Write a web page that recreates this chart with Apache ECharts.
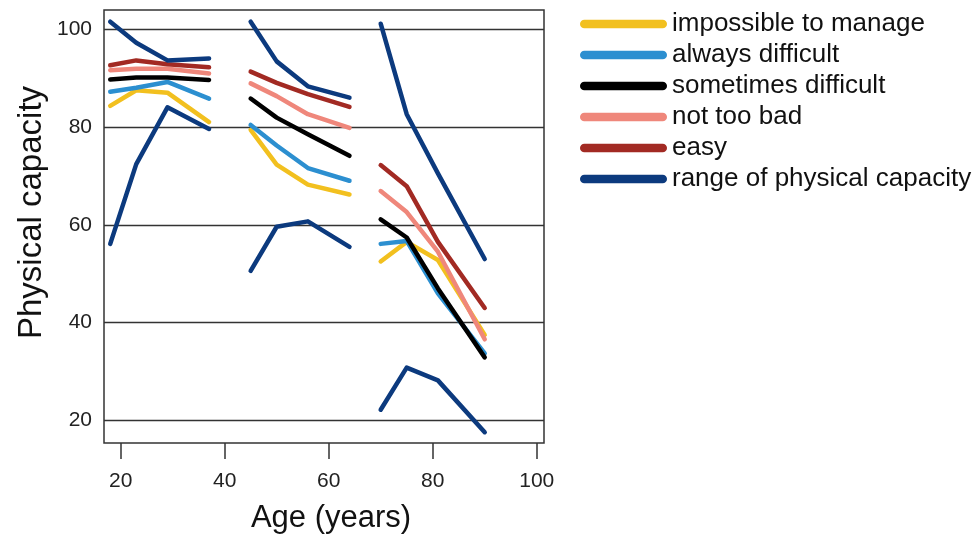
<!DOCTYPE html>
<html>
<head>
<meta charset="utf-8">
<script src="https://cdn.jsdelivr.net/npm/echarts@6/dist/echarts.min.js"></script>
<style>
  html, body { margin: 0; padding: 0; background: #fff; }
  #main { width: 978px; height: 539px; }
</style>
</head>
<body>
<div id="main"></div>
<script>
// age points of the three groups
const ages = [[18, 23, 29, 37], [45, 50, 56, 64], [70, 75, 81, 90]];

// mean physical capacity per group, by how work is managed
const impossible = [[84.3, 87.5, 87.0, 81.0], [79.4, 72.3, 68.2, 66.2], [52.5, 56.5, 52.8, 37.5]];
const alwaysDiff = [[87.2, 88.0, 89.2, 85.8], [80.4, 76.2, 71.6, 69.0], [56.1, 56.7, 46.0, 33.7]];
const sometimesDiff = [[89.7, 90.1, 90.1, 89.6], [85.8, 81.9, 78.5, 74.1], [61.1, 57.4, 47.0, 32.9]];
const notTooBad = [[91.6, 91.9, 91.9, 90.9], [88.9, 86.3, 82.6, 79.8], [66.9, 62.6, 54.5, 36.6]];
const easy = [[92.6, 93.6, 92.8, 92.2], [91.3, 89.0, 86.7, 84.1], [72.2, 67.9, 56.5, 43.0]];
const rangeUpper = [[101.5, 97.2, 93.6, 94.0], [101.5, 93.4, 88.3, 86.0], [101.1, 82.6, 70.5, 53.0]];
const rangeLower = [[56.1, 72.4, 84.0, 79.6], [50.6, 59.6, 60.7, 55.5], [22.2, 30.8, 28.2, 17.6]];

const seriesNames = ['impossible to manage', 'always difficult', 'sometimes difficult', 'not too bad', 'easy', 'range of physical capacity'];
const seriesColors = ['#f2c01f', '#2c8fd0', '#000000', '#ef877b', '#a22a23', '#0c3a7e'];
const xTicks = [20, 40, 60, 80, 100];
const yTicks = [20, 40, 60, 80, 100];

const font = 'Liberation Sans, Arial, sans-serif';

// join the groups into one line with gaps between them
function toLine(groups) {
  const out = [];
  groups.forEach(function (vals, g) {
    if (g > 0) out.push([null, null]);
    vals.forEach(function (v, i) { out.push([ages[g][i], v]); });
  });
  return out;
}
function rangeLine() {
  const out = [];
  ages.forEach(function (xs, g) {
    if (g > 0) out.push([null, null]);
    xs.forEach(function (x, i) { out.push([x, rangeUpper[g][i]]); });
    out.push([null, null]);
    xs.forEach(function (x, i) { out.push([x, rangeLower[g][i]]); });
  });
  return out;
}

const lines = [impossible, alwaysDiff, sometimesDiff, notTooBad, easy];
const series = lines.map(function (groups, k) {
  return {
    name: seriesNames[k],
    type: 'line',
    data: toLine(groups),
    color: seriesColors[k],
    showSymbol: false,
    symbol: 'none',
    connectNulls: false,
    lineStyle: { width: 4.5, cap: 'round', join: 'round' }
  };
});
series.push({
  name: seriesNames[5],
  type: 'line',
  data: rangeLine(),
  color: seriesColors[5],
  showSymbol: false,
  symbol: 'none',
  connectNulls: false,
  lineStyle: { width: 4.5, cap: 'round', join: 'round' }
});

const myChart = echarts.init(document.getElementById('main'));
const option = {
  animation: false,
  backgroundColor: '#fff',
  grid: {
    left: 104, right: 434, top: 10, bottom: 93,
    show: true, borderColor: '#333', borderWidth: 1.5
  },
  legend: {
    orient: 'vertical',
    left: 580,
    top: 11,
    padding: 0,
    itemWidth: 87,
    itemHeight: 10,
    itemGap: 5,
    icon: 'path://M5,0H95A5,5,0,0,1,95,10H5A5,5,0,0,1,5,0Z',
    textStyle: { fontFamily: font, fontSize: 26, lineHeight: 26, color: '#111' },
    data: seriesNames
  },
  xAxis: {
    type: 'value',
    min: 16.8,
    max: 101.4,
    name: 'Age (years)',
    nameLocation: 'middle',
    nameGap: 60,
    nameTextStyle: { fontFamily: font, fontSize: 31, color: '#111', padding: [0, 0, 0, 14] },
    axisLine: { show: false },
    splitLine: { show: false },
    axisTick: { show: true, length: 16, customValues: xTicks, lineStyle: { color: '#333', width: 1.5 } },
    axisLabel: { customValues: xTicks, margin: 28, fontFamily: font, fontSize: 21, color: '#222' }
  },
  yAxis: {
    type: 'value',
    min: 15.4,
    max: 103.9,
    name: 'Physical capacity',
    nameLocation: 'middle',
    nameGap: 56,
    nameTextStyle: { fontFamily: font, fontSize: 33, color: '#111', padding: [0, 0, 0, 28] },
    axisLine: { show: false },
    axisTick: { show: false, customValues: yTicks },
    axisLabel: { customValues: yTicks, margin: 12, fontFamily: font, fontSize: 21, color: '#222' },
    splitLine: { show: true, lineStyle: { color: '#333', width: 1.3 } }
  },
  series: series
};
myChart.setOption(option);
</script>
</body>
</html>
